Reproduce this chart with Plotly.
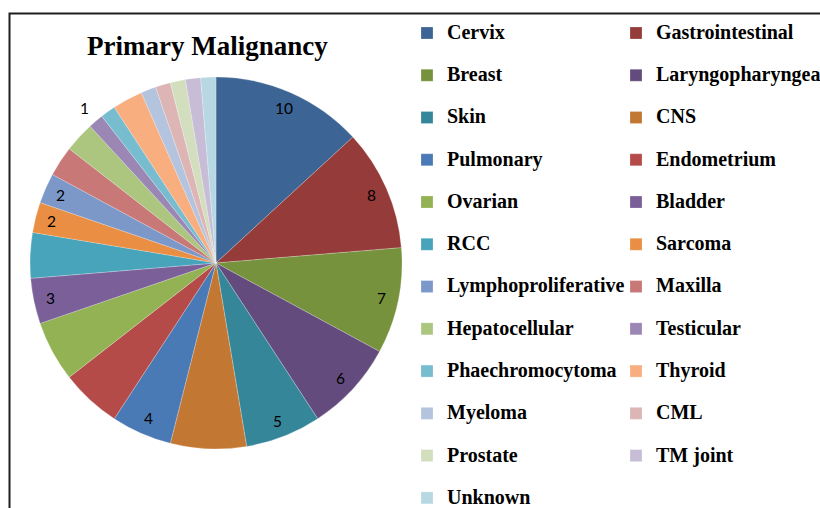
import math
import plotly.graph_objects as go

# ---------------- data ----------------
categories = [
    "Cervix", "Gastrointestinal", "Breast", "Laryngopharyngeal", "Skin", "CNS",
    "Pulmonary", "Endometrium", "Ovarian", "Bladder", "RCC", "Sarcoma",
    "Lymphoproliferative", "Maxilla", "Hepatocellular", "Testicular",
    "Phaechromocytoma", "Thyroid", "Myeloma", "CML", "Prostate", "TM joint", "Unknown",
]
counts = [10, 8, 7, 6, 5, 5, 4, 4, 4, 3, 3, 2, 2, 2, 2, 1, 1, 2, 1, 1, 1, 1, 1]
labelled = ["Cervix", "Gastrointestinal", "Breast", "Laryngopharyngeal", "Skin",
            "Pulmonary", "Bladder", "Sarcoma", "Lymphoproliferative", "Testicular"]
title_text = "Primary Malignancy"

colors = [
    "#3C6494", "#953B39", "#77923D", "#634C7D", "#36869A", "#C27832",
    "#4A7AB5", "#B54B49", "#92B254", "#7A5F99", "#47A4BB", "#E98E42",
    "#7C98C9", "#C87877", "#ACC680", "#9A87B4", "#78BCD0", "#F8AE7E",
    "#B4C3DE", "#DDB5B4", "#D3DEBE", "#C8BDD7", "#B7D8E3",
]

# ---------------- geometry (pixels) ----------------
W, H = 820, 508
ML, MR, MT, MB = 0, 300, 0, 0
GW, GH = W - ML - MR, H - MT - MB
CX, CY, R = 216, 263, 186


def px_x(x):
    return (x - ML) / GW


def px_y(y):
    return 1 - (y - MT) / GH


legend_names = [f'<span style="font-size:20px">{c}</span><br> ' for c in categories]

fig = go.Figure()
fig.add_trace(go.Pie(
    labels=legend_names,
    values=counts,
    sort=False,
    direction="clockwise",
    rotation=0,
    textinfo="none",
    hoverinfo="skip",
    marker=dict(colors=colors, line=dict(color="rgba(255,255,255,0.45)", width=0.5)),
    domain=dict(x=[px_x(CX - R), px_x(CX + R)], y=[px_y(CY + R), px_y(CY - R)]),
))

# data labels placed from the cumulative angles of the data
total = sum(counts)
annotations = []
cum = 0
for cat, v in zip(categories, counts):
    mid = (cum + v / 2) / total * 2 * math.pi
    cum += v
    if cat not in labelled:
        continue
    rf = 0.91 if v > 1 else 1.09
    x = CX + rf * R * math.sin(mid)
    y = CY - rf * R * math.cos(mid)
    annotations.append(dict(
        x=px_x(x), y=px_y(y), xref="paper", yref="paper",
        text=str(v), showarrow=False, xanchor="center", yanchor="middle",
        font=dict(family="Lato, Liberation Sans, sans-serif", size=15.5, color="#000000"),
    ))

annotations.append(dict(
    x=px_x(207), y=px_y(46), xref="paper", yref="paper",
    text=f"<b>{title_text}</b>", showarrow=False, xanchor="center", yanchor="middle",
    font=dict(family="Liberation Serif, Times New Roman, serif", size=27, color="#000000"),
))

fig.update_layout(
    width=W, height=H,
    margin=dict(l=ML, r=MR, t=MT, b=MB, autoexpand=False),
    paper_bgcolor="white",
    plot_bgcolor="white",
    showlegend=True,
    legend=dict(
        orientation="h",
        x=px_x(407), y=px_y(16.7), xanchor="left", yanchor="top",
        entrywidth=164, entrywidthmode="pixels",
        valign="top",
        traceorder="normal",
        maxheight=700,
        font=dict(family="Liberation Serif, Times New Roman, serif", size=15.1,
                  color="#000000", weight="bold"),
        bgcolor="rgba(0,0,0,0)",
        borderwidth=0,
    ),
    annotations=annotations,
    shapes=[
        dict(type="path", xref="paper", yref="paper",
             path=f"M {px_x(9.5)} {px_y(520)} L {px_x(9.5)} {px_y(13.5)} L {px_x(830)} {px_y(13.5)}",
             line=dict(color="#1e1e1e", width=2)),
    ],
)

fig.write_html("out.html", config={"displayModeBar": False},
               post_script="document.body.style.margin='0px';")
